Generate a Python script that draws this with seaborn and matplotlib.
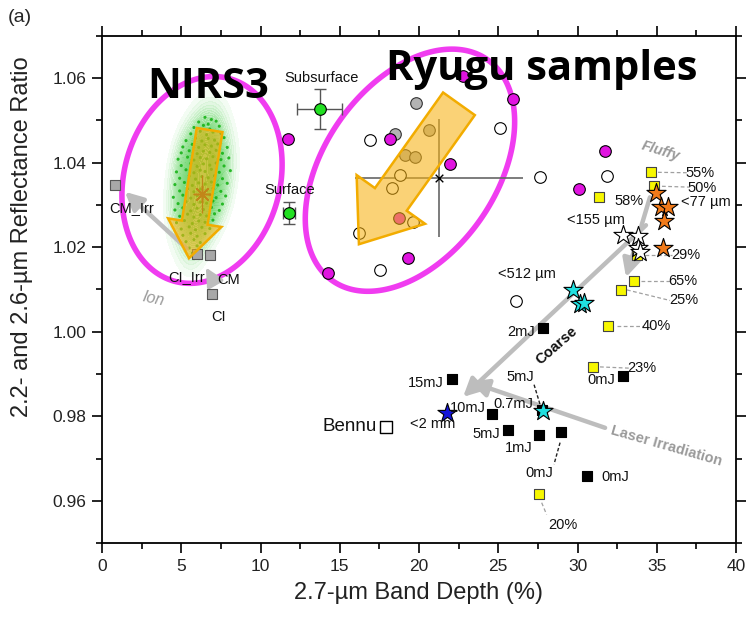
import matplotlib
matplotlib.use("Agg")
import matplotlib.pyplot as plt
import numpy as np
import pandas as pd
import seaborn as sns
from matplotlib.patches import Polygon
from matplotlib.colors import LinearSegmentedColormap

# ---------------- data ----------------
# NIRS3 observations (green cloud)
cloud_x = [6.5, 6.9, 6.1, 6.7, 7.2, 5.8, 6.4, 6.8, 7.4, 5.6, 6.2, 6.6, 7.0, 7.5,
           5.3, 5.9, 6.3, 6.7, 7.1, 7.7, 5.1, 5.7, 6.1, 6.5, 6.9, 7.3, 7.9,
           5.0, 5.5, 6.0, 6.4, 6.8, 7.2, 7.6, 4.8, 5.4, 5.8, 6.2, 6.6, 7.0, 7.5, 8.0,
           5.0, 5.6, 6.0, 6.4, 6.8, 7.2, 7.7, 4.7, 5.3, 5.8, 6.2, 6.5, 6.9, 7.4, 8.1,
           4.9, 5.5, 5.9, 6.3, 6.7, 7.1, 7.6, 4.6, 5.2, 5.7, 6.1, 6.5, 6.9, 7.3, 7.9,
           4.9, 5.4, 5.8, 6.2, 6.6, 7.0, 7.5, 4.5, 5.1, 5.6, 6.0, 6.4, 6.8, 7.2, 7.8,
           4.8, 5.3, 5.8, 6.2, 6.6, 7.0, 7.6, 4.6, 5.1, 5.6, 6.0, 6.4, 6.9, 7.4,
           4.9, 5.4, 5.8, 6.2, 6.6, 7.1, 4.7, 5.2, 5.7, 6.1, 6.5, 7.0,
           5.0, 5.5, 5.9, 6.3, 6.8, 5.1, 5.6, 6.0, 6.5, 5.3, 5.8, 6.2, 5.5, 6.0, 5.7]
cloud_y = [1.0507, 1.0502, 1.0496, 1.0491, 1.0498, 1.0483, 1.0488, 1.0479, 1.0486,
           1.0468, 1.0474, 1.0466, 1.0472, 1.0469, 1.0452, 1.0458, 1.0451, 1.0457,
           1.0453, 1.0459, 1.0437, 1.0443, 1.0436, 1.0442, 1.0439, 1.0444, 1.0436,
           1.0423, 1.0428, 1.0421, 1.0427, 1.0424, 1.0429, 1.0422, 1.0408, 1.0413,
           1.0406, 1.0412, 1.0409, 1.0414, 1.0407, 1.0411, 1.0393, 1.0398, 1.0391,
           1.0397, 1.0394, 1.0399, 1.0392, 1.0378, 1.0383, 1.0376, 1.0382, 1.0379,
           1.0384, 1.0377, 1.0381, 1.0363, 1.0368, 1.0361, 1.0367, 1.0364, 1.0369,
           1.0362, 1.0348, 1.0353, 1.0346, 1.0352, 1.0349, 1.0354, 1.0347, 1.0351,
           1.0333, 1.0338, 1.0331, 1.0337, 1.0334, 1.0339, 1.0332, 1.0318, 1.0323,
           1.0316, 1.0322, 1.0319, 1.0324, 1.0317, 1.0321, 1.0303, 1.0308, 1.0301,
           1.0307, 1.0304, 1.0309, 1.0302, 1.0288, 1.0293, 1.0286, 1.0292, 1.0289,
           1.0294, 1.0287, 1.0273, 1.0278, 1.0271, 1.0277, 1.0274, 1.0279, 1.0258,
           1.0263, 1.0256, 1.0262, 1.0259, 1.0264, 1.0243, 1.0248, 1.0241, 1.0247,
           1.0244, 1.0228, 1.0233, 1.0226, 1.0232, 1.0213, 1.0218, 1.0211, 1.0198,
           1.0203, 1.0186]
nirs3_mean_x = [6.29]
nirs3_mean_y = [1.0325]

# meteorites (gray squares)
met_names = ["CM_Irr", "CI_Irr", "CM", "CI"]
met_x = [0.82, 5.97, 6.81, 6.92]
met_y = [1.0347, 1.0185, 1.0181, 1.0090]

# Hayabusa2 sites (green, with error bars)
site_names = ["Subsurface", "Surface"]
site_x = [13.75, 11.80]
site_y = [1.0527, 1.0280]
site_xerr = [1.42, 0.40]
site_yerr = [0.0048, 0.0026]

# Ryugu samples
open_x = [16.91, 25.11, 27.63, 18.80, 18.28, 16.23, 17.54, 19.60, 26.12, 31.84]
open_y = [1.0454, 1.0481, 1.0367, 1.0371, 1.0339, 1.0234, 1.0145, 1.0260, 1.0072, 1.0368]
grey_x = [19.81, 18.49, 20.65, 19.12, 19.75]
grey_y = [1.0541, 1.0467, 1.0476, 1.0418, 1.0414]
mag_x = [22.80, 25.91, 18.17, 21.96, 11.74, 19.29, 14.28, 31.74, 30.11, 18.74]
mag_y = [1.0604, 1.0550, 1.0455, 1.0397, 1.0456, 1.0175, 1.0140, 1.0428, 1.0337, 1.0270]
ryugu_mean_x, ryugu_mean_y = [21.26], [1.0364]
ryugu_sd_x, ryugu_sd_y = [5.3], [0.014]

# porosity series (yellow squares)
yel_labels = ["55%", "50%", "58%", "29%", "65%", "25%", "40%", "23%", "20%"]
yel_x = [34.64, 34.85, 31.38, 33.73, 33.56, 32.72, 31.94, 31.00, 27.59]
yel_y = [1.0377, 1.0344, 1.0319, 1.0181, 1.0121, 1.0099, 1.0013, 0.9917, 0.9617]

# grain-size series (stars)
s77_x = [34.95, 35.24, 35.73, 35.48, 35.41]
s77_y = [1.0327, 1.0294, 1.0294, 1.0262, 1.0199]
s155_x = [32.89, 33.84, 33.84, 33.94]
s155_y = [1.0228, 1.0226, 1.0199, 1.0189]
s512_x = [29.74, 30.16, 30.41, 27.80]
s512_y = [1.0099, 1.0066, 1.0068, 0.9813]
s2mm_x = [21.74]
s2mm_y = [0.9809]

# laser irradiation (black squares)
laser_labels = ["2mJ", "15mJ", "0mJ", "10mJ", "5mJ", "1mJ", "0mJ", "0mJ", "0.7mJ"]
laser_x = [27.80, 22.06, 32.85, 24.59, 25.59, 27.59, 28.96, 30.62, 27.75]
laser_y = [1.0008, 0.9888, 0.9896, 0.9805, 0.9768, 0.9756, 0.9762, 0.9659, 0.9815]

bennu_x, bennu_y = [17.92], [0.9776]

# ---------------- figure ----------------
sns.set_theme(style="ticks")
plt.rcParams["font.family"] = ["Liberation Sans", "DejaVu Sans"]
plt.rcParams["axes.unicode_minus"] = False

W, H = 756, 620
fig = plt.figure(figsize=(W / 100, H / 100), dpi=100)
fig.patch.set_facecolor("white")
ax = fig.add_axes([102 / W, 1 - 543.3 / H, (736 - 102) / W, (543.3 - 35.7) / H])
ax.set_facecolor("white")
ax.set_xlim(0, 40)
ax.set_ylim(0.95, 1.07)


def to_disp(x, y):
    return np.asarray(ax.transData.transform((x, y)))


def from_disp(pts):
    return ax.transData.inverted().transform(np.asarray(pts))


def ellipse(cx, cy, a_px, b_px, angle_deg, **kw):
    c = to_disp(cx, cy)
    t = np.linspace(0, 2 * np.pi, 240)
    th = np.deg2rad(angle_deg)
    u = np.array([np.cos(th), np.sin(th)])
    v = np.array([-np.sin(th), np.cos(th)])
    pts = c + np.outer(a_px * np.cos(t), u) + np.outer(b_px * np.sin(t), v)
    ax.add_patch(Polygon(from_disp(pts), closed=True, **kw))


def block_arrow(x0, y0, x1, y1, shaft, head_w, head_l, **kw):
    T = to_disp(x0, y0)
    P = to_disp(x1, y1)
    d = (P - T) / np.linalg.norm(P - T)
    n = np.array([-d[1], d[0]])
    B = P - d * head_l
    pts = [T + n * shaft / 2, B + n * shaft / 2, B + n * head_w / 2, P,
           B - n * head_w / 2, B - n * shaft / 2, T - n * shaft / 2]
    ax.add_patch(Polygon(from_disp(pts), closed=True, **kw))


def grey_arrow(x0, y0, x1, y1, lw=3.2):
    ax.annotate("", xy=(x1, y1), xytext=(x0, y0),
                arrowprops=dict(arrowstyle="-|>,head_length=0.9,head_width=0.45",
                                color="#bdbdbd", lw=lw, shrinkA=0, shrinkB=0,
                                mutation_scale=12), zorder=3)


# NIRS3 cloud: smooth light-green haze + speckles
haze = LinearSegmentedColormap.from_list("haze", ["#f2fcf2", "#8fe08f", "#3cc83c"])
sns.kdeplot(x=cloud_x, y=cloud_y, fill=True, levels=30, thresh=0.03,
            bw_adjust=1.2, cmap=haze, alpha=0.6, ax=ax, zorder=1)
sns.scatterplot(x=cloud_x, y=cloud_y, s=5, color="#18b418", edgecolor="none",
                alpha=0.9, ax=ax, legend=False, zorder=2)
ax.errorbar(nirs3_mean_x, nirs3_mean_y, xerr=0.3, yerr=0.0045, fmt="none",
            ecolor="#7a4a20", elinewidth=0.9, zorder=2.5)
sns.scatterplot(x=nirs3_mean_x, y=nirs3_mean_y, marker=(8, 2, 0), s=140,
                color="#7a4a20", linewidth=1.1, ax=ax, legend=False, zorder=2.6)

# ellipses
ellipse(6.31, 1.0359, 105, 78, 75, fill=False, edgecolor="#f03cf0", lw=4, zorder=3)
ellipse(19.43, 1.0382, 135, 86, 55, fill=False, edgecolor="#f03cf0", lw=4, zorder=3)

# Ryugu mean and spread
ax.errorbar(ryugu_mean_x, ryugu_mean_y, xerr=ryugu_sd_x, yerr=ryugu_sd_y, fmt="none",
            ecolor="#666666", elinewidth=1.2, zorder=3)
sns.scatterplot(x=ryugu_mean_x, y=ryugu_mean_y, marker="x", s=30, color="black",
                linewidth=1.0, ax=ax, legend=False, zorder=3.1)

# grey arrows
grey_arrow(5.34, 1.0197, 1.45, 1.0331)
grey_arrow(7.13, 1.0114, 6.55, 1.0152, lw=2.5)
grey_arrow(34.57, 1.0318, 33.06, 1.0129)
grey_arrow(34.32, 1.0252, 22.78, 0.9846)
grey_arrow(31.74, 0.9773, 23.22, 0.9882)

# dashed connectors
dash_grey = dict(ls=(0, (3, 2)), color="#a0a0a0", lw=0.9, zorder=3)
for seg in [((35.08, 36.97), (1.0377, 1.0376)), ((35.33, 37.1), (1.0344, 1.0342)),
            ((34.26, 35.96), (1.0181, 1.0181)), ((34.0, 35.84), (1.0121, 1.0121)),
            ((33.12, 35.84), (1.0099, 1.0074)), ((32.47, 34.11), (1.0013, 1.0013)),
            ((31.42, 33.31), (0.9917, 0.9914)), ((27.74, 28.05), (0.9596, 0.9568))]:
    ax.plot(seg[0], seg[1], **dash_grey)
for seg in [((27.26, 27.63), (0.9875, 0.9829)), ((28.9, 28.52), (0.9738, 0.9687))]:
    ax.plot(seg[0], seg[1], ls=(0, (2.5, 1.5)), color="#222222", lw=1.0, zorder=3)

# points
ms_c = 70
sns.scatterplot(x=open_x, y=open_y, s=ms_c, color="white", edgecolor="black",
                linewidth=0.8, ax=ax, legend=False, zorder=4)
sns.scatterplot(x=grey_x, y=grey_y, s=ms_c, color="#b3b3b3", edgecolor="#333333",
                linewidth=0.8, ax=ax, legend=False, zorder=4)
sns.scatterplot(x=mag_x, y=mag_y, s=ms_c, color="#e014e0", edgecolor="black",
                linewidth=0.8, ax=ax, legend=False, zorder=4)
ax.errorbar(site_x, site_y, xerr=site_xerr, yerr=site_yerr, fmt="none",
            ecolor="#555555", elinewidth=1.0, capsize=4, capthick=1.0, zorder=4)
sns.scatterplot(x=site_x, y=site_y, s=ms_c, color="#22e022", edgecolor="black",
                linewidth=0.8, ax=ax, legend=False, zorder=4.1)
sns.scatterplot(x=met_x, y=met_y, marker="s", s=60, color="#a8a8a8",
                edgecolor="#555555", linewidth=0.8, ax=ax, legend=False, zorder=4)
sns.scatterplot(x=yel_x, y=yel_y, marker="s", s=62, color="#f7f700",
                edgecolor="#444444", linewidth=0.8, ax=ax, legend=False, zorder=4)
sns.scatterplot(x=laser_x, y=laser_y, marker="s", s=62, color="black",
                edgecolor="black", linewidth=0.8, ax=ax, legend=False, zorder=4)
sns.scatterplot(x=bennu_x, y=bennu_y, marker="s", s=80, color="white",
                edgecolor="black", linewidth=1.0, ax=ax, legend=False, zorder=4)
star_kw = dict(marker="*", s=210, edgecolor="black", linewidth=0.8, ax=ax,
               legend=False, zorder=4.5)
sns.scatterplot(x=s77_x, y=s77_y, color="#f07a1a", **star_kw)
sns.scatterplot(x=s155_x, y=s155_y, color="white", **star_kw)
sns.scatterplot(x=s512_x, y=s512_y, color="#20e0e0", **star_kw)
sns.scatterplot(x=s2mm_x, y=s2mm_y, color="#1515d8", **star_kw)

# orange block arrows (semi transparent)
arrow_kw = dict(facecolor=(0.97, 0.70, 0.08, 0.58), edgecolor="#f2ac00", lw=1.8, zorder=5)
block_arrow(6.79, 1.0477, 5.49, 1.0174, 26, 54, 36, **arrow_kw)
block_arrow(22.52, 1.0539, 16.21, 1.0207, 39, 84, 55, **arrow_kw)

# ---------------- text ----------------
fs = 10.5
txt = dict(fontsize=fs, ha="center", va="center", color="#111111", zorder=6)
ax.text(13.88, 1.0601, site_names[0], **txt)
ax.text(11.86, 1.0335, site_names[1], **txt)
for name, (tx, ty) in zip(met_names, [(1.86, 1.0292), (5.34, 1.0129), (7.97, 1.0123), (7.34, 1.0036)]):
    ax.text(tx, ty, name, **txt)
yel_pos = [(37.73, 1.0376), (37.88, 1.0341), (33.25, 1.0310), (36.84, 1.0181), (36.66, 1.0121),
           (36.72, 1.0074), (35.0, 1.0013), (34.07, 0.9914), (29.05, 0.9544)]
for lab, (tx, ty) in zip(yel_labels, yel_pos):
    ax.text(tx, ty, lab, **txt)
laser_pos = [(26.44, 0.9999), (20.40, 0.9880), (31.50, 0.9886), (23.10, 0.9819), (24.23, 0.9759),
             (26.30, 0.9726), (27.60, 0.9667), (32.37, 0.9656), (25.93, 0.9829)]
for lab, (tx, ty) in zip(laser_labels, laser_pos):
    ax.text(tx, ty, lab, **txt)
ax.text(26.41, 0.9894, "5mJ", **txt)
ax.text(38.11, 1.0307, "<77 µm", **txt)
ax.text(31.14, 1.0265, "<155 µm", **txt)
ax.text(26.79, 1.0137, "<512 µm", **txt)
ax.text(20.85, 0.9783, "<2 mm", **txt)
ax.text(15.65, 0.9777, "Bennu", fontsize=13.5, ha="center", va="center", color="#111111", zorder=6)

ax.text(3.24, 1.0078, "Ion", fontsize=11.5, style="italic", color="#9a9a9a",
        rotation=-12, ha="center", va="center", zorder=6)
ax.text(35.25, 1.0428, "Fluffy", fontsize=10.5, style="italic", weight="bold",
        color="#9a9a9a", rotation=-17, ha="center", va="center", zorder=6)
ax.text(28.68, 0.9967, "Coarse", fontsize=10.5, weight="bold", color="#111111",
        rotation=41, ha="center", va="center", zorder=6)
ax.text(35.58, 0.9730, "Laser Irradiation", fontsize=10.5, weight="bold",
        color="#9a9a9a", rotation=-16, ha="center", va="center", zorder=6)

big = dict(fontsize=30, weight="bold", family=["Open Sans", "DejaVu Sans"],
           ha="center", va="baseline", color="black", zorder=7)
ax.text(6.69, 1.0553, "NIRS3", **big)
ax.text(27.73, 1.0596, "Ryugu samples", **big)

fig.text(8 / W, 1 - 18 / H, "(a)", fontsize=14, ha="left", va="center")

# ---------------- axes styling ----------------
ax.set_xticks(np.arange(0, 41, 5))
ax.set_xticks(np.arange(2.5, 40, 5), minor=True)
ax.set_yticks([0.96, 0.98, 1.00, 1.02, 1.04, 1.06])
ax.set_yticks([0.95, 0.97, 0.99, 1.01, 1.03, 1.05, 1.07], minor=True)
ax.yaxis.set_major_formatter(matplotlib.ticker.FormatStrFormatter("%.2f"))
ax.tick_params(which="both", direction="out", top=True, right=True,
               width=1.2, color="black", labelcolor="#222222")
ax.tick_params(which="major", length=7, labelsize=12.5, pad=4)
ax.tick_params(which="minor", length=4)
for sp in ax.spines.values():
    sp.set_visible(True)
    sp.set_color("black")
    sp.set_linewidth(1.3)
ax.set_xlabel("2.7-µm Band Depth (%)", fontsize=17, color="#222222", labelpad=6)
ax.set_ylabel("2.2- and 2.6-µm Reflectance Ratio", fontsize=17, color="#222222")
ax.yaxis.set_label_coords((33 - 102) / 634, (543.3 - 236.5) / 507.6)
ax.grid(False)

fig.savefig("out.png", dpi=100)
